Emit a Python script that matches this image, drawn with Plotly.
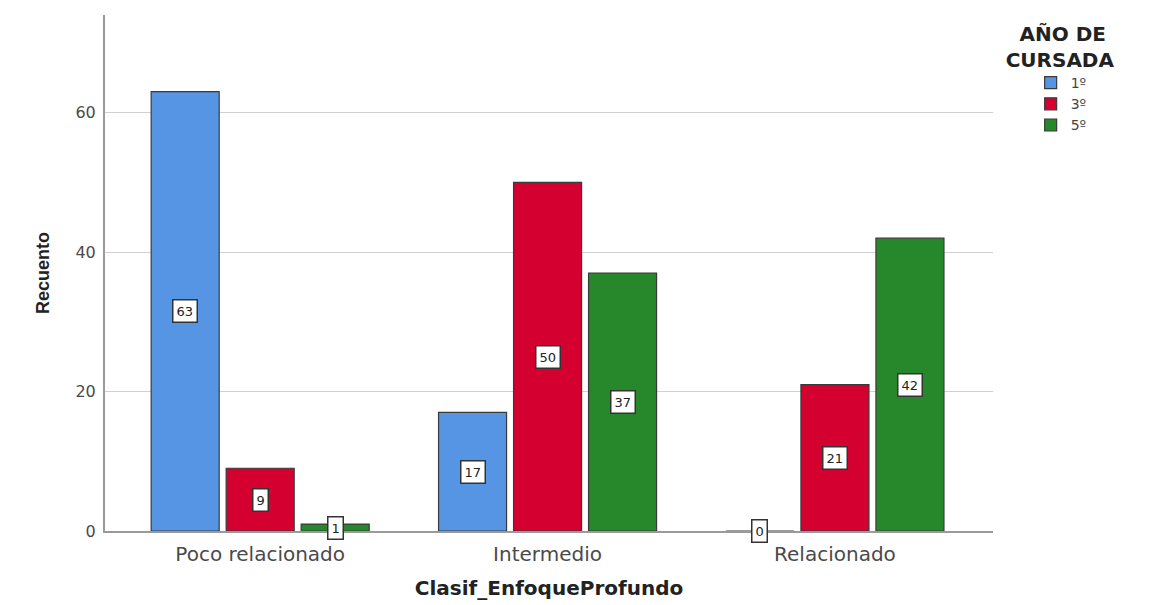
import plotly.graph_objects as go

categories = ["Poco relacionado", "Intermedio", "Relacionado"]
series_names = ["1º", "3º", "5º"]
values_1 = [63, 17, 0]
values_3 = [9, 50, 21]
values_5 = [1, 37, 42]
colors = ["#5595E3", "#D4002F", "#26882A"]
y_ticks = [0, 20, 40, 60]

all_values = [values_1, values_3, values_5]
BARGAP = 0.217
BARGROUPGAP = 0.093

fig = go.Figure()
for name, vals, col in zip(series_names, all_values, colors):
    fig.add_trace(go.Bar(
        x=categories, y=vals, name=name,
        marker=dict(color=col, line=dict(color="#3a3a3a", width=1.2)),
        hoverinfo="x+y+name",
    ))

# value labels (boxed) at the middle of each bar
slot = (1 - BARGAP) / len(series_names)
annotations = []
for s, vals in enumerate(all_values):
    off = (s - (len(series_names) - 1) / 2) * slot
    for i, v in enumerate(vals):
        annotations.append(dict(
            x=i + off, y=v / 2, xref="x", yref="y", text=str(v),
            showarrow=False, bgcolor="white", bordercolor="#333333",
            borderwidth=1.5, borderpad=3,
            font=dict(family="DejaVu Sans", size=13, color="#222222"),
        ))

fig.update_layout(
    width=1151, height=605,
    barmode="group", bargap=BARGAP, bargroupgap=BARGROUPGAP,
    plot_bgcolor="white", paper_bgcolor="white",
    margin=dict(l=97, r=166, t=7, b=82),
    font=dict(family="DejaVu Sans", color="#333333"),
    xaxis=dict(
        type="category", range=[-0.54, 2.55],
        showline=True, linecolor="#9a9a9a", linewidth=2,
        ticks="", tickfont=dict(size=20, color="#4a4a4a"),
        ticklabelstandoff=4,
        title=dict(text="<b>Clasif_EnfoqueProfundo</b>", standoff=16,
                   font=dict(size=20, color="#222222")),
        showgrid=False,
    ),
    yaxis=dict(
        range=[0, 74], tickvals=y_ticks,
        showline=True, linecolor="#9a9a9a", linewidth=2,
        showgrid=True, gridcolor="#d0d0d0", gridwidth=1,
        ticks="", ticklen=0, tickfont=dict(size=16, color="#4a4a4a"),
        ticklabelstandoff=4,
        title=dict(text="<b>Recuento</b>", standoff=21,
                   font=dict(family="Liberation Sans, Arial", size=18, color="#222222")),
        zeroline=False,
    ),
    legend=dict(
        x=1.012, y=1.0, xanchor="left", yanchor="top",
        title=dict(text="<b>&nbsp;&nbsp;AÑO DE<br>CURSADA</b>",
                   font=dict(size=20, color="#222222")),
        font=dict(size=14, color="#444444"),
        itemwidth=30, tracegroupgap=0, indentation=27,
    ),
    annotations=annotations,
)

fig.write_html("out.html")
